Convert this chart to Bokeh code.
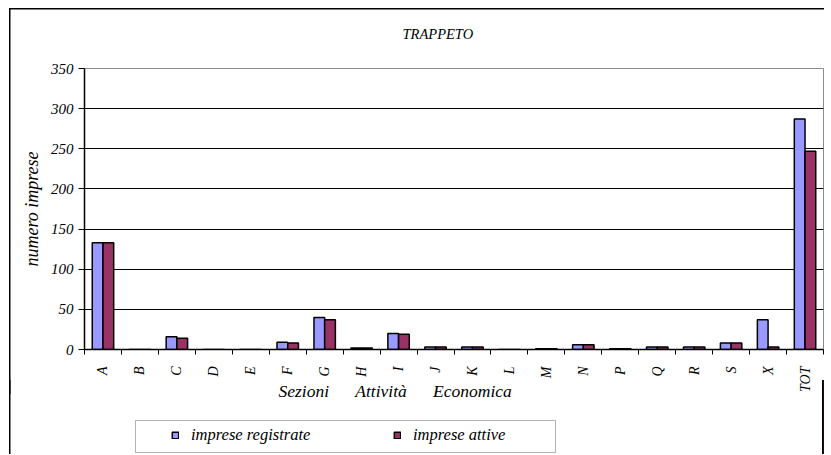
import math
from bokeh.plotting import figure
from bokeh.layouts import column
from bokeh.models import (Range1d, LinearAxis, FixedTicker, Title, Legend, LegendItem, Label,
                          BoxAnnotation, ColumnDataSource)
from bokeh.transform import dodge
from bokeh.embed import file_html
from bokeh.resources import INLINE

categories = ["A", "B", "C", "D", "E", "F", "G", "H", "I", "J", "K", "L", "M", "N",
              "P", "Q", "R", "S", "X", "TOT"]
imprese_registrate = [133, 0, 16, 0, 0, 9, 40, 2, 20, 3, 3, 0, 1, 6, 1, 3, 3, 8, 37, 287]
imprese_attive = [133, 0, 14, 0, 0, 8, 37, 2, 19, 3, 3, 0, 1, 6, 1, 3, 3, 8, 3, 247]
y_ticks = [0, 50, 100, 150, 200, 250, 300, 350]

FONT = "Liberation Serif"
REG_COLOR = "#9999FF"
ATT_COLOR = "#993366"
NB = "\u00a0"

n = len(categories)
pos = list(range(n))
src = ColumnDataSource(dict(pos=pos, cat=categories, reg=imprese_registrate, att=imprese_attive))

# ---------------- main chart ----------------
p = figure(x_range=Range1d(-0.5, n - 0.5), y_range=Range1d(0, 350),
           width=824, height=394, output_backend="svg", toolbar_location=None,
           x_axis_location=None, min_border_left=84, min_border_right=1,
           min_border_top=68, min_border_bottom=39)

p.outline_line_color = "#8c8c8c"
p.outline_line_width = 1
p.background_fill_color = "white"
p.border_fill_alpha = 0
p.styles = {
    "background-color": "white",
    "background-image": "linear-gradient(#000, #000), linear-gradient(#000, #000)",
    "background-size": "1.5px 100%, 100% 1.5px",
    "background-position": "9px 8px, 9px 8px",
    "background-repeat": "no-repeat",
}

p.title = Title(text="TRAPPETO", align="left", offset=318, text_font=FONT,
                text_font_style="italic", text_font_size="14.5px", text_color="black",
                vertical_align="top", standoff=50)

yax = p.yaxis[0]
yax.ticker = FixedTicker(ticks=y_ticks)
yax.axis_line_color = "black"
yax.axis_line_width = 1.5
yax.major_tick_in = 0
yax.major_tick_out = 6
yax.minor_tick_line_color = None
yax.major_label_text_font = FONT
yax.major_label_text_font_style = "italic"
yax.major_label_text_font_size = "15px"
yax.major_label_text_color = "black"
yax.major_label_standoff = 5
yax.axis_label = "numero imprese"
yax.axis_label_text_font = FONT
yax.axis_label_text_font_style = "italic"
yax.axis_label_text_font_size = "18px"
yax.axis_label_text_color = "black"
yax.axis_label_standoff = 6

p.xgrid.grid_line_color = None
p.ygrid.ticker = FixedTicker(ticks=y_ticks[1:-1])
p.ygrid.grid_line_color = "black"
p.ygrid.grid_line_width = 1

# x axis: labels at category centres, tick marks at category boundaries
cat_axis = LinearAxis(ticker=FixedTicker(ticks=pos, minor_ticks=[i - 0.5 for i in range(n + 1)]),
                      major_label_overrides={i: c for i, c in zip(pos, categories)},
                      major_label_orientation=math.pi / 2,
                      axis_line_color="black", axis_line_width=1.5,
                      major_tick_line_color=None, major_tick_out=0, major_tick_in=0,
                      minor_tick_line_color="black", minor_tick_line_width=1,
                      minor_tick_out=5, minor_tick_in=0,
                      major_label_standoff=12, major_label_text_font=FONT,
                      major_label_text_font_style="italic",
                      major_label_text_font_size="14px",
                      major_label_text_color="black")
p.add_layout(cat_axis, "below")

p.vbar(x=dodge("pos", -0.145), top="reg", width=0.29, source=src,
       fill_color=REG_COLOR, line_color="black", line_width=1.5)
p.vbar(x=dodge("pos", 0.145), top="att", width=0.29, source=src,
       fill_color=ATT_COLOR, line_color="black", line_width=1.5)

# ---------------- axis title + legend strip ----------------
# (its frame is aligned with the main frame, so screen x is measured from x = 84 px)
H2 = 74
p2 = figure(x_range=Range1d(-100, -99), y_range=Range1d(0, 1), width=824, height=H2,
            output_backend="svg", toolbar_location=None,
            x_axis_location=None, y_axis_location=None,
            min_border_left=0, min_border_right=0, min_border_top=0, min_border_bottom=0)
p2.outline_line_color = None
p2.background_fill_alpha = 0
p2.border_fill_alpha = 0
p2.grid.grid_line_color = None
p2.styles = {
    "margin-top": "-14px",
    "background-image": "linear-gradient(#000, #000)",
    "background-size": "1.5px 100%",
    "background-position": "9px 0px",
    "background-repeat": "no-repeat",
}

p2.add_layout(Label(x=194, y=H2 - 10, x_units="screen", y_units="screen",
                    text="Sezioni" + NB * 6 + "Attività" + NB * 6 + "Economica",
                    text_align="left", text_baseline="middle", text_font=FONT,
                    text_font_style="italic", text_font_size="17.5px", text_color="black"))

p2.add_layout(BoxAnnotation(left=51, right=471, top=34, bottom=2,
                            left_units="screen", right_units="screen",
                            top_units="screen", bottom_units="screen",
                            fill_color="white", fill_alpha=1,
                            line_color="black", line_width=1))

# legend swatches: same series, drawn in a range where no bar is visible
g1 = p2.vbar(x=dodge("pos", -0.145), top="reg", width=0.29, source=src,
             fill_color=REG_COLOR, line_color="black", line_width=1.5)
g2 = p2.vbar(x=dodge("pos", 0.145), top="att", width=0.29, source=src,
             fill_color=ATT_COLOR, line_color="black", line_width=1.5)

legend = Legend(items=[LegendItem(label="imprese registrate", renderers=[g1]),
                       LegendItem(label="imprese attive", renderers=[g2])],
                orientation="horizontal", location=(87, 9), padding=0, margin=0,
                border_line_color=None, background_fill_alpha=0,
                glyph_width=8, glyph_height=8, label_standoff=12, label_width=130,
                label_height=18, spacing=72,
                label_text_font=FONT, label_text_font_style="italic",
                label_text_font_size="16.5px", label_text_color="black")
p2.add_layout(legend)

layout = column(p, p2, spacing=0)

open("out.html", "w").write(file_html(layout, INLINE))
